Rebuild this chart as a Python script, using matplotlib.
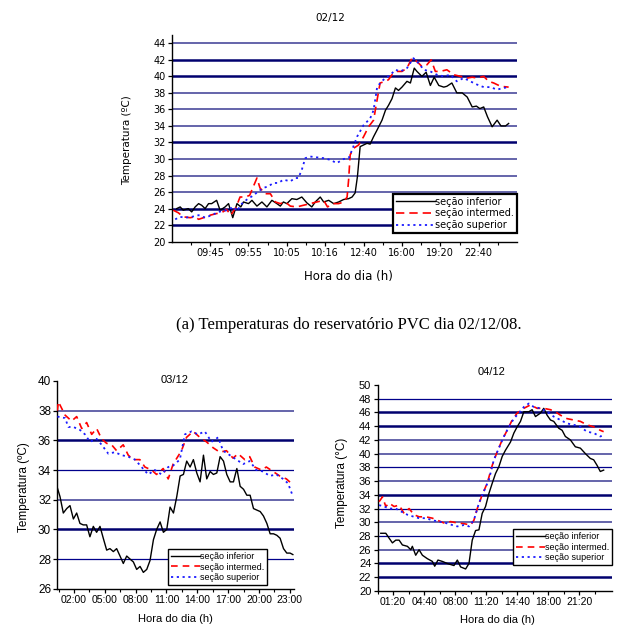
import matplotlib
matplotlib.use("Agg")
import matplotlib.pyplot as plt
from matplotlib import font_manager

# ---- dados: 02/12 (eixo x em posicao de amostra, rotulos categoricos) ----
x_0212_inf = [0.13, 0.22, 0.30, 0.43, 0.52, 0.61, 0.70, 0.78, 0.87, 0.96, 1.04, 1.17, 1.26, 1.39, 1.48,
              1.59, 1.70, 1.80, 1.87, 2.00, 2.09, 2.22, 2.35, 2.48, 2.61, 2.74, 2.83, 2.91, 3.00, 3.13,
              3.26, 3.39, 3.52, 3.65, 3.74, 3.87, 3.96, 4.09, 4.22, 4.35, 4.48, 4.61, 4.70, 4.78, 4.84,
              4.91, 5.00, 5.09, 5.17, 5.26, 5.35, 5.48, 5.57, 5.65, 5.74, 5.83, 5.91, 6.00, 6.13, 6.22,
              6.32, 6.39, 6.52, 6.63, 6.74, 6.84, 6.96, 7.09, 7.17, 7.30, 7.43, 7.57, 7.70, 7.83, 7.94,
              8.03, 8.13, 8.23, 8.35, 8.48, 8.58, 8.70, 8.78]
t_0212_inf = [24.0, 24.2, 23.8, 24.0, 23.6, 24.2, 24.6, 24.4, 24.0, 24.6, 24.6, 25.0, 23.8, 24.2, 24.6,
              22.9, 24.6, 24.2, 24.8, 24.6, 25.0, 24.3, 24.8, 24.2, 25.0, 24.6, 24.3, 24.8, 24.6, 25.2,
              25.1, 25.4, 24.7, 24.2, 24.8, 25.4, 24.8, 25.0, 24.6, 24.8, 25.1, 25.2, 25.4, 25.9, 27.9,
              31.5, 31.7, 31.9, 31.8, 32.7, 33.5, 34.7, 35.9, 36.5, 37.3, 38.6, 38.3, 38.7, 39.4, 39.2,
              41.0, 40.6, 40.0, 40.5, 38.9, 39.9, 38.9, 38.7, 38.8, 39.2, 38.0, 38.0, 37.5, 36.3, 36.4,
              36.1, 36.3, 35.1, 33.9, 34.7, 34.0, 34.0, 34.3]

x_0212_int = [0.04, 0.17, 0.30, 0.48, 0.61, 0.70, 0.83, 1.00, 1.17, 1.30, 1.43, 1.54, 1.68, 1.78, 1.91,
              2.03, 2.13, 2.22, 2.30, 2.43, 2.57, 2.70, 2.83, 2.96, 3.09, 3.26, 3.43, 3.61, 3.78, 3.96,
              4.06, 4.20, 4.35, 4.48, 4.57, 4.61, 4.65, 4.74, 4.87, 5.00, 5.13, 5.26, 5.35, 5.43, 5.57,
              5.65, 5.74, 5.87, 6.00, 6.13, 6.26, 6.39, 6.52, 6.65, 6.76, 6.87, 7.00, 7.17, 7.35, 7.52,
              7.70, 7.83, 7.96, 8.13, 8.26, 8.39, 8.57, 8.78]
t_0212_int = [23.8, 23.5, 23.0, 22.9, 23.0, 22.7, 22.9, 23.2, 23.4, 23.5, 23.9, 23.2, 24.2, 25.4, 25.4,
              25.6, 26.7, 27.7, 26.5, 25.8, 25.8, 24.8, 24.6, 24.8, 24.3, 24.2, 24.4, 24.6, 24.8, 25.0,
              24.2, 24.6, 24.6, 24.8, 25.4, 27.5, 30.5, 31.3, 31.7, 32.7, 33.9, 34.7, 37.1, 39.2, 39.4,
              39.6, 40.2, 40.6, 40.6, 41.0, 42.2, 41.8, 41.2, 41.4, 42.0, 40.6, 40.6, 40.8, 40.2, 40.0,
              39.8, 39.9, 39.8, 40.0, 39.4, 39.2, 38.8, 38.7]

x_0212_sup = [0.09, 0.22, 0.35, 0.52, 0.70, 0.87, 1.04, 1.22, 1.43, 1.61, 1.70, 1.83, 1.96, 2.13, 2.26,
              2.39, 2.52, 2.65, 2.78, 2.91, 3.09, 3.22, 3.30, 3.39, 3.48, 3.61, 3.78, 3.96, 4.13, 4.30,
              4.48, 4.61, 4.70, 4.83, 5.00, 5.17, 5.26, 5.35, 5.43, 5.52, 5.70, 5.83, 5.96, 6.13, 6.30,
              6.43, 6.57, 6.74, 6.91, 7.09, 7.26, 7.43, 7.61, 7.78, 7.96, 8.13, 8.30, 8.48, 8.65, 8.78]
t_0212_sup = [22.7, 23.0, 22.9, 23.0, 23.2, 22.9, 23.2, 23.6, 23.8, 24.2, 23.7, 24.6, 25.1, 25.6, 26.1,
              26.5, 26.7, 27.1, 27.1, 27.5, 27.3, 27.7, 27.7, 28.7, 30.1, 30.3, 30.2, 30.1, 29.9, 29.5,
              30.0, 30.1, 31.1, 32.7, 34.1, 34.9, 35.9, 38.6, 39.2, 39.6, 40.2, 40.8, 40.6, 41.0, 42.2,
              41.6, 40.8, 40.6, 40.2, 40.0, 40.2, 39.4, 39.8, 39.4, 39.0, 38.7, 38.7, 38.4, 38.6, 38.7]

ticks_0212 = [1, 2, 3, 4, 5, 6, 7, 8]
labels_0212 = ["09:45", "09:55", "10:05", "10:16", "12:40", "16:00", "19:20", "22:40"]

# ---- dados: 03/12 (horas) ----
h_0312_inf = [0.38, 0.64, 0.96, 1.29, 1.61, 1.94, 2.26, 2.58, 2.90, 3.23, 3.55, 3.88, 4.20, 4.53, 4.85,
              5.18, 5.50, 5.83, 6.15, 6.48, 6.80, 7.13, 7.45, 7.78, 8.10, 8.43, 8.75, 9.08, 9.40, 9.73,
              10.05, 10.38, 10.70, 11.03, 11.35, 11.68, 12.00, 12.33, 12.65, 12.97, 13.30, 13.62, 13.95,
              14.27, 14.60, 14.92, 15.25, 15.57, 15.90, 16.22, 16.55, 16.87, 17.20, 17.52, 17.85, 18.17,
              18.50, 18.82, 19.14, 19.47, 19.79, 20.12, 20.44, 20.77, 21.09, 21.42, 21.74, 22.06, 22.39,
              22.71, 23.03, 23.30]
t_0312_inf = [32.8, 32.2, 31.1, 31.4, 31.6, 30.7, 31.1, 30.4, 30.3, 30.3, 29.5, 30.2, 29.8, 30.2, 29.4,
              28.6, 28.7, 28.5, 28.7, 28.2, 27.7, 28.2, 28.0, 27.8, 27.3, 27.5, 27.1, 27.3, 27.9, 29.3,
              30.0, 30.5, 29.8, 30.0, 31.5, 31.1, 32.2, 33.6, 33.7, 34.6, 34.2, 34.7, 33.8,
              33.2, 35.0, 33.4, 33.9, 33.7, 33.8, 34.9, 34.6, 33.7, 33.2, 33.2, 34.1, 32.9,
              32.7, 32.3, 32.3, 31.4, 31.3, 31.2, 30.9, 30.4, 29.7, 29.7, 29.6, 29.4, 28.7,
              28.4, 28.4, 28.3]

h_0312_int = [0.38, 0.48, 1.13, 1.77, 2.26, 2.75, 3.23, 3.72, 4.20, 4.69, 5.17, 5.66, 6.15, 6.79, 7.28,
              7.77, 8.41, 8.90, 9.55, 10.03, 10.68, 11.17, 11.65, 12.46, 12.95, 13.60, 14.25, 14.89,
              15.54, 16.19, 16.84, 17.48, 17.97, 18.62, 19.10, 19.59, 20.24, 20.72, 21.37, 22.02,
              22.67, 23.32]
t_0312_int = [38.0, 38.6, 37.7, 37.3, 37.6, 36.8, 37.2, 36.4, 36.8, 36.1, 35.8, 35.7, 35.3, 35.7, 35.0,
              34.7, 34.7, 34.2, 34.0, 33.7, 34.1, 33.4, 34.4, 35.3, 36.2, 36.6, 36.2, 35.9,
              35.5, 35.2, 35.3, 34.8, 35.1, 34.7, 34.9, 34.2, 34.0, 34.2, 33.9, 33.6,
              33.4, 33.0]

h_0312_sup = [0.38, 1.13, 1.45, 1.94, 2.58, 3.07, 3.55, 4.20, 4.69, 5.34, 5.98, 6.63, 7.28, 7.93, 8.58,
              9.22, 9.87, 10.52, 11.17, 11.65, 12.30, 12.79, 13.44, 14.08, 14.73, 15.38, 16.03, 16.51,
              17.16, 17.81, 18.46, 19.10, 19.75, 20.40, 21.05, 21.70, 22.34, 22.83, 23.32]
t_0312_sup = [37.6, 37.5, 36.9, 36.9, 36.7, 36.4, 35.9, 36.1, 35.7, 35.1, 35.2, 35.0, 34.9, 34.7, 34.2,
              33.7, 34.0, 33.7, 34.2, 34.3, 34.7, 36.4, 36.6, 36.4, 36.6, 35.9, 36.2, 35.3,
              35.0, 34.7, 34.4, 34.6, 34.0, 33.9, 33.6, 33.7, 33.4, 33.1, 32.2]

ticks_0312 = [2, 5, 8, 11, 14, 17, 20, 23]
labels_0312 = ["02:00", "05:00", "08:00", "11:00", "14:00", "17:00", "20:00", "23:00"]

# ---- dados: 04/12 (horas) ----
h_0412_inf = [0.01, 0.55, 0.90, 1.26, 1.62, 1.98, 2.33, 2.87, 3.23, 3.40, 3.76, 4.12, 4.48, 5.01, 5.55,
              5.80, 6.15, 6.62, 7.15, 7.87, 8.23, 8.58, 9.12, 9.48, 9.83, 10.19, 10.55, 10.90, 11.26,
              11.62, 11.98, 12.33, 12.69, 13.05, 13.40, 13.94, 14.30, 14.65, 15.01, 15.37, 15.90, 16.26,
              16.62, 17.15, 17.51, 17.87, 18.23, 18.58, 19.12, 19.48, 19.83, 20.37, 20.90, 21.44, 21.98,
              22.51, 22.87, 23.23, 23.58, 23.94]
t_0412_inf = [28.4, 28.4, 27.7, 27.0, 27.4, 27.4, 26.7, 26.5, 26.0, 26.5, 25.2, 26.0, 25.2, 24.7, 24.3,
              23.6, 24.5, 24.3, 24.0, 23.7, 24.5, 23.5, 23.2, 24.0, 27.4, 28.8, 28.9, 31.3, 32.3,
              34.2, 35.7, 37.1, 38.1, 39.6, 40.5, 41.7, 43.0, 43.9, 44.7, 46.1, 46.1, 46.4,
              45.4, 45.9, 46.6, 45.6, 44.9, 44.7, 43.7, 43.4, 42.5, 42.0, 41.0, 40.8, 40.0,
              39.3, 39.1, 38.3, 37.4, 37.6]

h_0412_int = [-0.17, 0.19, 0.55, 0.90, 1.44, 1.98, 2.51, 3.05, 3.58, 4.12, 4.83, 5.55, 6.08, 6.80, 7.51,
              8.23, 8.94, 9.65, 10.01, 10.37, 10.90, 11.44, 11.98, 12.51, 13.05, 13.58, 14.12, 14.65,
              15.37, 16.08, 16.80, 17.51, 18.23, 18.76, 19.30, 20.01, 20.73, 21.44, 22.15, 22.87,
              23.58, 23.94]
t_0412_int = [33.0, 33.7, 32.3, 32.8, 32.3, 32.5, 31.3, 32.0, 31.1, 30.8, 30.8, 30.6, 30.3, 29.9, 30.1,
              29.9, 29.8, 29.6, 30.3, 32.0, 34.0, 35.7, 38.3, 40.3, 42.0, 43.4, 44.9, 45.9,
              46.6, 47.1, 46.6, 46.6, 46.4, 46.1, 45.6, 45.1, 44.9, 44.7, 44.2, 43.9,
              43.4, 43.2]

h_0412_sup = [-0.17, 0.37, 0.90, 1.62, 2.15, 2.87, 3.58, 4.12, 4.83, 5.55, 6.26, 6.98, 7.69, 8.23, 8.94,
              9.48, 10.01, 10.55, 11.08, 11.62, 12.15, 12.69, 13.23, 13.76, 14.30, 14.83, 15.37, 15.90,
              16.44, 17.15, 17.87, 18.58, 19.30, 20.01, 20.73, 21.44, 22.15, 22.87, 23.58, 23.94]
t_0412_sup = [32.5, 32.3, 32.0, 32.0, 31.6, 31.1, 30.8, 30.6, 30.6, 30.3, 30.1, 29.9, 29.6, 29.4, 29.6,
              29.4, 30.3, 32.8, 34.5, 36.2, 39.1, 40.8, 42.5, 43.9, 45.1, 45.9, 46.8, 47.3,
              46.8, 46.6, 46.1, 45.4, 44.9, 44.4, 44.2, 43.9, 43.2, 43.0, 42.5, 42.7]

ticks_0412 = [4 / 3, 14 / 3, 8, 34 / 3, 44 / 3, 18, 64 / 3]
labels_0412 = ["01:20", "04:40", "08:00", "11:20", "14:40", "18:00", "21:20"]

series_names = ["seção inferior", "seção intermed.", "seção superior"]

# fonte estreita para os graficos de baixo, se existir
nomes = {f.name for f in font_manager.fontManager.ttflist}
narrow = "Liberation Sans Narrow" if "Liberation Sans Narrow" in nomes else "Liberation Sans"
wide = "DejaVu Sans"


def linhas_grade(ax, niveis, grossas, claras):
    for y in niveis:
        if y in grossas:
            ax.axhline(y, color="#00006e", lw=1.8, zorder=1)
        elif y in claras:
            ax.axhline(y, color="#6464aa", lw=1.4, zorder=1)
        else:
            ax.axhline(y, color="#00008b", lw=0.9, zorder=1)


def estilo(ax, fonte, tam):
    for s in ["top", "right"]:
        ax.spines[s].set_visible(False)
    ax.spines["left"].set_linewidth(1.0)
    ax.spines["bottom"].set_linewidth(1.0)
    ax.tick_params(axis="both", which="major", direction="out", length=3, width=0.9,
                   labelsize=tam, pad=1.5)
    ax.tick_params(axis="x", which="minor", direction="out", length=2, width=0.8)
    for lab in ax.get_xticklabels() + ax.get_yticklabels():
        lab.set_family(fonte)


def series(ax, dados, dl, lw):
    (x1, y1), (x2, y2), (x3, y3) = dados
    ax.plot(x1, y1, color="black", lw=lw, label=series_names[0], zorder=3)
    ax.plot(x2, y2, color="#ff0000", lw=lw + 0.2, dashes=dl[0], label=series_names[1], zorder=3)
    ax.plot(x3, y3, color="#1a1aff", lw=lw + 0.3, dashes=dl[1], label=series_names[2], zorder=3)


def legenda(ax, loc, anchor, fonte, tam, hl, lw):
    leg = ax.legend(loc=loc, bbox_to_anchor=anchor, prop={"family": fonte, "size": tam},
                    handlelength=hl, handletextpad=0.0, labelspacing=0.18, borderpad=0.3,
                    borderaxespad=0, fancybox=False, framealpha=1)
    leg.get_frame().set_edgecolor("black")
    leg.get_frame().set_linewidth(lw)
    leg.set_zorder(5)
    return leg


fig = plt.figure(figsize=(6.2, 6.26), dpi=100)

# ---------------- 02/12 ----------------
ax1 = fig.add_axes([0.277, 0.614, 0.557, 0.330])
linhas_grade(ax1, range(22, 45, 2), [22, 24, 32, 40, 42], [26, 28, 30, 34, 36, 38, 44])
series(ax1, [(x_0212_inf, t_0212_inf), (x_0212_int, t_0212_int), (x_0212_sup, t_0212_sup)],
       [(5, 3), (1.2, 2)], 1.0)
ax1.set_xlim(0, 9)
ax1.set_ylim(20, 45)
ax1.set_yticks(range(20, 45, 2))
ax1.set_xticks(ticks_0212)
ax1.set_xticklabels(labels_0212)
ax1.set_xticks([t + 0.5 for t in [0] + ticks_0212], minor=True)
estilo(ax1, wide, 7)
legenda(ax1, "lower right", (1.0, 0.042), wide, 7, 4.0, 1.6)
fig.text(330 / 620, 1 - 18 / 626, "02/12", ha="center", va="center", family=wide, fontsize=7.5)
fig.text(127 / 620, 1 - 140 / 626, "Temperatura (ºC)", rotation=90, ha="center", va="center",
         family=wide, fontsize=7.5)
fig.text(348 / 620, 1 - 277 / 626, "Hora do dia (h)", ha="center", va="center",
         family=wide, fontsize=8.5)
fig.text(349 / 620, 1 - 325 / 626, "(a) Temperaturas do reservatório PVC dia 02/12/08.",
         ha="center", va="center", family="Liberation Serif", fontsize=12)

# ---------------- 03/12 ----------------
ax2 = fig.add_axes([0.0925, 0.0596, 0.3815, 0.3318])
linhas_grade(ax2, range(28, 39, 2), [30, 36], [32, 38])
series(ax2, [(h_0312_inf, t_0312_inf), (h_0312_int, t_0312_int), (h_0312_sup, t_0312_sup)],
       [(4, 3), (1.2, 2)], 1.0)
ax2.set_xlim(0.38, 23.4)
ax2.set_ylim(26, 40)
ax2.set_yticks(range(26, 41, 2))
ax2.set_xticks(ticks_0312)
ax2.set_xticklabels(labels_0312)
ax2.set_xticks([t + 1.5 for t in [-1] + ticks_0312[:-1]], minor=True)
estilo(ax2, narrow, 7.5)
ax2.tick_params(axis="y", labelsize=8.5)
legenda(ax2, "lower left", (0.468, 0.018), narrow, 6.5, 3.2, 1.0)
fig.text(175 / 620, 1 - 380 / 626, "03/12", ha="center", va="center", family=narrow, fontsize=8)
fig.text(24 / 620, 1 - 487 / 626, "Temperatura (ºC)", rotation=90, ha="center", va="center",
         family=narrow, fontsize=8.5)
fig.text(175 / 620, 1 - 619 / 626, "Hora do dia (h)", ha="center", va="center",
         family=narrow, fontsize=8)

# ---------------- 04/12 ----------------
ax3 = fig.add_axes([0.609, 0.056, 0.378, 0.329])
linhas_grade(ax3, range(22, 49, 2), [22, 24, 34, 44, 46], [26, 30, 36, 40, 42])
series(ax3, [(h_0412_inf, t_0412_inf), (h_0412_int, t_0412_int), (h_0412_sup, t_0412_sup)],
       [(4, 3), (1.2, 2)], 1.0)
ax3.set_xlim(-0.24, 24.83)
ax3.set_ylim(20, 50)
ax3.set_yticks(range(20, 51, 2))
ax3.set_xticks(ticks_0412)
ax3.set_xticklabels(labels_0412)
ax3.set_xticks([t - 5 / 3 for t in ticks_0412] + [ticks_0412[-1] + 5 / 3], minor=True)
estilo(ax3, narrow, 7.5)
ax3.tick_params(axis="y", labelsize=8)
legenda(ax3, "lower right", (1.0, 0.126), narrow, 6.5, 3.2, 1.0)
fig.text(492 / 620, 1 - 372 / 626, "04/12", ha="center", va="center", family=narrow, fontsize=8)
fig.text(342 / 620, 1 - 483 / 626, "Temperatura (°C)", rotation=90, ha="center", va="center",
         family=narrow, fontsize=8.5)
fig.text(497 / 620, 1 - 620 / 626, "Hora do dia (h)", ha="center", va="center",
         family=narrow, fontsize=8)

fig.savefig("out.png", dpi=100)
